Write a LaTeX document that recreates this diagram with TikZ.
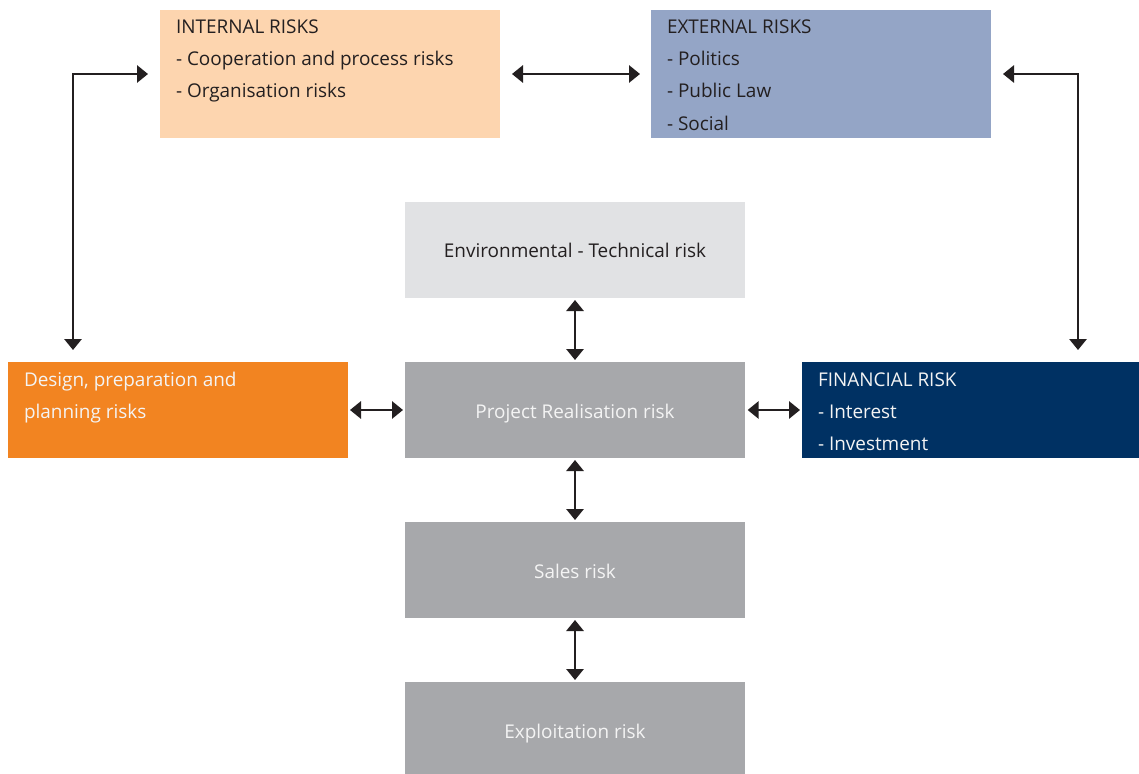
\documentclass[tikz,border=0pt]{standalone}
\usepackage{fontspec}
\setmainfont{Open Sans}
\usetikzlibrary{arrows.meta}
\definecolor{cint}{HTML}{FDD5AF}
\definecolor{cext}{HTML}{94A5C6}
\definecolor{cenv}{HTML}{E1E2E4}
\definecolor{cdes}{HTML}{F28421}
\definecolor{cgry}{HTML}{A7A8AB}
\definecolor{cfin}{HTML}{003163}
\definecolor{ctxt}{HTML}{231F20}
\definecolor{cwht}{HTML}{F4F4F4}
\tikzset{
  box/.style={draw=none, inner sep=0, outer sep=0, minimum width=255pt, minimum height=72pt},
  lbl/.style={inner sep=0, outer sep=0, font=\fontsize{14.2}{17}\selectfont, text=ctxt},
  wlbl/.style={lbl, text=cwht},
  dbl/.style={line width=1.5pt, draw=ctxt, {Triangle[length=8.25pt,width=13pt]}-{Triangle[length=8.25pt,width=13pt]}},
}
\begin{document}
\begin{tikzpicture}[x=0.75pt, y=-0.75pt]
\useasboundingbox (0,0) rectangle (1139,774);
% boxes
\node[box, fill=cint, minimum height=96pt] (int) at (330,74) {};
\node[box, fill=cext, minimum height=96pt] (ext) at (821,74) {};
\node[box, fill=cenv] (env) at (575,250) {};
\node[box, fill=cdes] (des) at (178,410) {};
\node[box, fill=cgry] (proj) at (575,410) {};
\node[box, fill=cfin, minimum width=252.75pt] (fin) at (970.5,410) {};
\node[box, fill=cgry] (sales) at (575,570) {};
\node[box, fill=cgry, minimum height=69pt] (expl) at (575,728) {};
% texts
\node[lbl, anchor=base west] (int1) at (176,34) {INTERNAL RISKS};
\node[lbl, anchor=base west] (int2) at (176,66) {- Cooperation and process risks};
\node[lbl, anchor=base west] (int3) at (176,98) {- Organisation risks};
\node[lbl, anchor=base west] (ext1) at (667,34) {EXTERNAL RISKS};
\node[lbl, anchor=base west] (ext2) at (667,66) {- Politics};
\node[lbl, anchor=base west] (ext3) at (667,98) {- Public Law};
\node[lbl, anchor=base west] (ext4) at (667,130) {- Social};
\node[lbl, anchor=base] (envt) at (575,257) {Environmental - Technical risk};
\node[wlbl, anchor=base west] (des1) at (24,386) {Design, preparation and};
\node[wlbl, anchor=base west] (des2) at (24,418) {planning risks};
\node[wlbl, anchor=base] (projt) at (575,418) {Project Realisation risk};
\node[wlbl, anchor=base west] (fin1) at (818,386) {FINANCIAL RISK};
\node[wlbl, anchor=base west] (fin2) at (818,418) {- Interest};
\node[wlbl, anchor=base west] (fin3) at (818,450) {- Investment};
\node[wlbl, anchor=base] (salest) at (575,578) {Sales risk};
\node[wlbl, anchor=base] (explt) at (575,738) {Exploitation risk};
% connectors
\coordinate (lc) at (73,350);
\coordinate (rc) at (1078,350);
\draw[dbl] ([xshift=9pt]int.east) -- ([xshift=-8.25pt]ext.west);
\draw[dbl] ([xshift=-9pt]int.west) -| (lc);
\draw[dbl] ([xshift=9pt]ext.east) -| (rc);
\draw[dbl] ([yshift=-1.5pt]env.south) -- ([yshift=1.5pt]proj.north);
\draw[dbl] ([xshift=1.5pt]des.east) -- ([xshift=-1.5pt]proj.west);
\draw[dbl] ([xshift=2pt]proj.east) -- ([xshift=-1.5pt]fin.west);
\draw[dbl] ([yshift=-1.5pt]proj.south) -- ([yshift=1.5pt]sales.north);
\draw[dbl] ([yshift=-1.5pt]sales.south) -- ([yshift=1.5pt]expl.north);
\end{tikzpicture}
\end{document}
